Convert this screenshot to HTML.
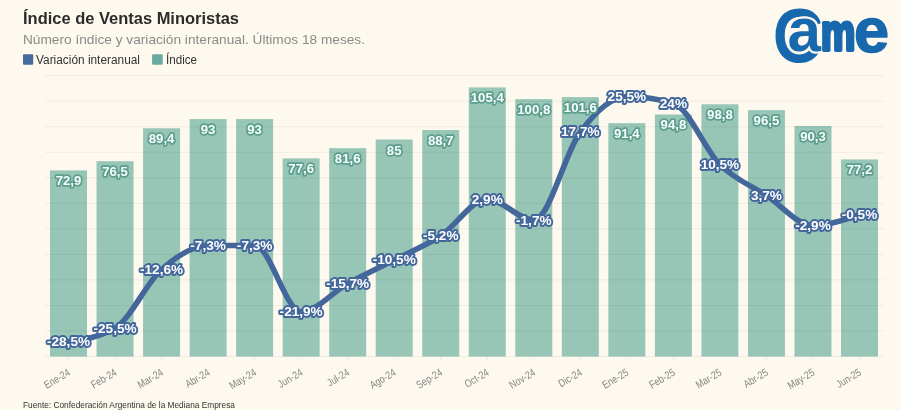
<!DOCTYPE html>
<html lang="es"><head><meta charset="utf-8"><title>Índice de Ventas Minoristas</title>
<style>
html,body{margin:0;padding:0;}
body{width:901px;height:410px;overflow:hidden;background:#fef9ef;font-family:"Liberation Sans",sans-serif;position:relative;}
svg{position:absolute;left:0;top:0;}
.t{font-family:"Liberation Sans",sans-serif;}
.title{font-weight:bold;font-size:16.5px;fill:#2b2b2b;}
.sub{font-size:13.5px;fill:#8a8a8a;}
.leg{font-size:12px;fill:#333;}
.foot{font-size:9.2px;fill:#333;}
.grid line{stroke:#000;stroke-opacity:0.055;stroke-width:1;}
.bars rect{fill:#97c6b6;}
.bl text{font-weight:bold;font-size:13.2px;fill:#f4fffd;stroke:#5e9d8c;stroke-width:3.4px;paint-order:stroke;stroke-linejoin:round;text-anchor:middle;}
.ll text{font-weight:bold;font-size:13.6px;fill:#fff;stroke:#44679b;stroke-width:3.8px;paint-order:stroke;stroke-linejoin:round;text-anchor:middle;}
.xl text{font-size:10.8px;fill:#858585;text-anchor:end;}
</style></head><body>
<svg class="t" width="901" height="410" viewBox="0 0 901 410">
<rect x="0" y="0" width="901" height="410" fill="#fef9ef"/>
<text class="title" x="23" y="24" textLength="216" lengthAdjust="spacingAndGlyphs">Índice de Ventas Minoristas</text>
<text class="sub" x="23" y="43.5" textLength="342" lengthAdjust="spacingAndGlyphs">Número índice y variación interanual. Últimos 18 meses.</text>
<rect x="23" y="54.2" width="10.2" height="10.6" rx="1" fill="#456a9c"/>
<text class="leg" x="36" y="63.7" textLength="104" lengthAdjust="spacingAndGlyphs">Variación interanual</text>
<rect x="152.1" y="54.2" width="10.6" height="10.6" rx="1" fill="#69aaa0"/>
<text class="leg" x="166" y="63.7" textLength="31" lengthAdjust="spacingAndGlyphs">Índice</text>
<g class="bars">
<rect x="50.00" y="170.39" width="37.0" height="186.11"/>
<rect x="96.53" y="161.20" width="37.0" height="195.30"/>
<rect x="143.06" y="128.26" width="37.0" height="228.24"/>
<rect x="189.59" y="119.07" width="37.0" height="237.43"/>
<rect x="236.12" y="119.07" width="37.0" height="237.43"/>
<rect x="282.65" y="158.39" width="37.0" height="198.11"/>
<rect x="329.18" y="148.18" width="37.0" height="208.32"/>
<rect x="375.71" y="139.50" width="37.0" height="217.00"/>
<rect x="422.24" y="130.05" width="37.0" height="226.45"/>
<rect x="468.77" y="87.41" width="37.0" height="269.09"/>
<rect x="515.30" y="99.16" width="37.0" height="257.34"/>
<rect x="561.83" y="97.12" width="37.0" height="259.38"/>
<rect x="608.36" y="123.16" width="37.0" height="233.34"/>
<rect x="654.89" y="114.48" width="37.0" height="242.02"/>
<rect x="701.42" y="104.26" width="37.0" height="252.24"/>
<rect x="747.95" y="110.14" width="37.0" height="246.36"/>
<rect x="794.48" y="125.96" width="37.0" height="230.54"/>
<rect x="841.01" y="159.41" width="37.0" height="197.09"/>
</g>
<g class="grid">
<line x1="45" x2="884" y1="356.50" y2="356.50"/>
<line x1="45" x2="884" y1="330.97" y2="330.97"/>
<line x1="45" x2="884" y1="305.44" y2="305.44"/>
<line x1="45" x2="884" y1="279.91" y2="279.91"/>
<line x1="45" x2="884" y1="254.38" y2="254.38"/>
<line x1="45" x2="884" y1="228.85" y2="228.85"/>
<line x1="45" x2="884" y1="203.32" y2="203.32"/>
<line x1="45" x2="884" y1="177.79" y2="177.79"/>
<line x1="45" x2="884" y1="152.26" y2="152.26"/>
<line x1="45" x2="884" y1="126.73" y2="126.73"/>
<line x1="45" x2="884" y1="101.20" y2="101.20"/>
<line x1="45" x2="884" y1="75.67" y2="75.67"/>
</g>
<path d="M68.50,341.69C84.01,339.42 99.52,337.15 115.03,328.07C130.54,318.99 146.05,283.28 161.56,269.50C177.07,255.73 192.58,245.44 208.09,245.44C223.60,245.44 239.11,245.44 254.62,245.44C270.13,245.44 285.64,311.73 301.15,311.73C316.66,311.73 332.17,292.20 347.68,283.58C363.19,274.95 378.70,267.92 394.21,259.97C409.72,252.03 425.23,246.05 440.74,235.91C456.25,225.77 471.76,199.13 487.27,199.13C502.78,199.13 518.29,220.02 533.80,220.02C549.31,220.02 564.82,152.52 580.33,131.94C595.84,111.36 611.35,96.53 626.86,96.53C642.37,96.53 657.88,98.80 673.39,103.34C688.90,107.88 704.41,149.27 719.92,164.63C735.43,179.99 750.94,185.36 766.45,195.50C781.96,205.64 797.47,225.47 812.98,225.47C828.49,225.47 844.00,220.02 859.51,214.57" fill="none" stroke="#44679b" stroke-width="5.6" stroke-linecap="round" stroke-linejoin="round"/>
<g class="bl">
<text x="68.50" y="185.39">72,9</text>
<text x="115.03" y="176.20">76,5</text>
<text x="161.56" y="143.26">89,4</text>
<text x="208.09" y="134.07">93</text>
<text x="254.62" y="134.07">93</text>
<text x="301.15" y="173.39">77,6</text>
<text x="347.68" y="163.18">81,6</text>
<text x="394.21" y="154.50">85</text>
<text x="440.74" y="145.05">88,7</text>
<text x="487.27" y="102.41">105,4</text>
<text x="533.80" y="114.16">100,8</text>
<text x="580.33" y="112.12">101,6</text>
<text x="626.86" y="138.16">91,4</text>
<text x="673.39" y="129.48">94,8</text>
<text x="719.92" y="119.26">98,8</text>
<text x="766.45" y="125.14">96,5</text>
<text x="812.98" y="140.96">90,3</text>
<text x="859.51" y="174.41">77,2</text>
</g>
<g class="ll">
<text x="68.50" y="346.19">-28,5%</text>
<text x="115.03" y="332.57">-25,5%</text>
<text x="161.56" y="274.00">-12,6%</text>
<text x="208.09" y="249.94">-7,3%</text>
<text x="254.62" y="249.94">-7,3%</text>
<text x="301.15" y="316.23">-21,9%</text>
<text x="347.68" y="288.08">-15,7%</text>
<text x="394.21" y="264.47">-10,5%</text>
<text x="440.74" y="240.41">-5,2%</text>
<text x="487.27" y="203.63">2,9%</text>
<text x="533.80" y="224.52">-1,7%</text>
<text x="580.33" y="136.44">17,7%</text>
<text x="626.86" y="101.03">25,5%</text>
<text x="673.39" y="107.84">24%</text>
<text x="719.92" y="169.13">10,5%</text>
<text x="766.45" y="200.00">3,7%</text>
<text x="812.98" y="229.97">-2,9%</text>
<text x="859.51" y="219.07">-0,5%</text>
</g>
<g class="grid">
<line x1="68.50" x2="68.50" y1="357" y2="361.5"/>
<line x1="115.03" x2="115.03" y1="357" y2="361.5"/>
<line x1="161.56" x2="161.56" y1="357" y2="361.5"/>
<line x1="208.09" x2="208.09" y1="357" y2="361.5"/>
<line x1="254.62" x2="254.62" y1="357" y2="361.5"/>
<line x1="301.15" x2="301.15" y1="357" y2="361.5"/>
<line x1="347.68" x2="347.68" y1="357" y2="361.5"/>
<line x1="394.21" x2="394.21" y1="357" y2="361.5"/>
<line x1="440.74" x2="440.74" y1="357" y2="361.5"/>
<line x1="487.27" x2="487.27" y1="357" y2="361.5"/>
<line x1="533.80" x2="533.80" y1="357" y2="361.5"/>
<line x1="580.33" x2="580.33" y1="357" y2="361.5"/>
<line x1="626.86" x2="626.86" y1="357" y2="361.5"/>
<line x1="673.39" x2="673.39" y1="357" y2="361.5"/>
<line x1="719.92" x2="719.92" y1="357" y2="361.5"/>
<line x1="766.45" x2="766.45" y1="357" y2="361.5"/>
<line x1="812.98" x2="812.98" y1="357" y2="361.5"/>
<line x1="859.51" x2="859.51" y1="357" y2="361.5"/>
</g>
<g class="xl">
<text transform="translate(71.00,374.5) rotate(-31) scale(0.815,1)" x="0" y="0">Ene-24</text>
<text transform="translate(117.53,374.5) rotate(-31) scale(0.815,1)" x="0" y="0">Feb-24</text>
<text transform="translate(164.06,374.5) rotate(-31) scale(0.815,1)" x="0" y="0">Mar-24</text>
<text transform="translate(210.59,374.5) rotate(-31) scale(0.815,1)" x="0" y="0">Abr-24</text>
<text transform="translate(257.12,374.5) rotate(-31) scale(0.815,1)" x="0" y="0">May-24</text>
<text transform="translate(303.65,374.5) rotate(-31) scale(0.815,1)" x="0" y="0">Jun-24</text>
<text transform="translate(350.18,374.5) rotate(-31) scale(0.815,1)" x="0" y="0">Jul-24</text>
<text transform="translate(396.71,374.5) rotate(-31) scale(0.815,1)" x="0" y="0">Ago-24</text>
<text transform="translate(443.24,374.5) rotate(-31) scale(0.815,1)" x="0" y="0">Sep-24</text>
<text transform="translate(489.77,374.5) rotate(-31) scale(0.815,1)" x="0" y="0">Oct-24</text>
<text transform="translate(536.30,374.5) rotate(-31) scale(0.815,1)" x="0" y="0">Nov-24</text>
<text transform="translate(582.83,374.5) rotate(-31) scale(0.815,1)" x="0" y="0">Dic-24</text>
<text transform="translate(629.36,374.5) rotate(-31) scale(0.815,1)" x="0" y="0">Ene-25</text>
<text transform="translate(675.89,374.5) rotate(-31) scale(0.815,1)" x="0" y="0">Feb-25</text>
<text transform="translate(722.42,374.5) rotate(-31) scale(0.815,1)" x="0" y="0">Mar-25</text>
<text transform="translate(768.95,374.5) rotate(-31) scale(0.815,1)" x="0" y="0">Abr-25</text>
<text transform="translate(815.48,374.5) rotate(-31) scale(0.815,1)" x="0" y="0">May-25</text>
<text transform="translate(862.01,374.5) rotate(-31) scale(0.815,1)" x="0" y="0">Jun-25</text>
</g>
<text class="foot" x="23" y="408" textLength="212" lengthAdjust="spacingAndGlyphs">Fuente: Confederación Argentina de la Mediana Empresa</text>
<g class="logo" role="img" aria-label="came" fill="#1868ae" stroke="#1868ae" stroke-linejoin="round">
<text transform="translate(773.6,60.6) scale(0.935,0.995)" font-size="72" stroke-width="3">C</text>
<text transform="translate(787.6,51.4) scale(0.97,0.985)" font-size="62" font-weight="bold" stroke="#fef9ef" stroke-width="4.4" paint-order="stroke">a</text>
<text transform="translate(821,50.2) scale(0.62,0.84)" font-size="62" font-weight="bold" stroke-width="5">m</text>
<text transform="translate(854,52.2) scale(1.016,1.018)" font-size="62" font-weight="bold" stroke-width="1.5">e</text>
</g>
</svg>
</body></html>
